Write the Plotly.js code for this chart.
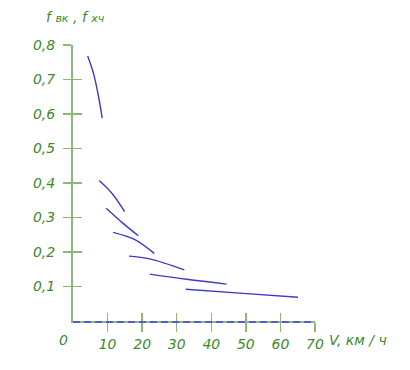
<!DOCTYPE html>
<html><head><meta charset="utf-8">
<script src="https://cdn.plot.ly/plotly-3.0.1.min.js"></script>
<style>html,body{margin:0;padding:0;background:#fff}#chart{width:410px;height:370px}</style>
</head><body><div id="chart"></div>
<script>
// Speed V, km/h and coefficient f for each curve
const curve1V = [4.25, 6.0, 7.4, 8.45];
const curve1F = [0.768, 0.715, 0.650, 0.588];
const curve2V = [7.6, 11.6, 14.9];
const curve2F = [0.407, 0.366, 0.317];
const curve3V = [9.6, 14.5, 18.9];
const curve3F = [0.327, 0.283, 0.247];
const curve4V = [11.6, 17.9, 23.5];
const curve4F = [0.257, 0.236, 0.196];
const curve5V = [16.2, 22.2, 32.2];
const curve5F = [0.188, 0.180, 0.148];
const curve6V = [22.2, 32.9, 44.4];
const curve6F = [0.136, 0.121, 0.107];
const curve7V = [32.6, 49.2, 65.1];
const curve7F = [0.092, 0.080, 0.069];
const xTicks = [10, 20, 30, 40, 50, 60, 70];
const yTicks = [0.1, 0.2, 0.3, 0.4, 0.5, 0.6, 0.7, 0.8];
const yTickText = ['0,1','0,2','0,3','0,4','0,5','0,6','0,7','0,8'];

const green = '#3c8a2a';
const axisGreen = '#8ab877';
const blue = '#3b3bc8';
const tfont = {family: 'DejaVu Sans', size: 14, color: green, style: 'italic'};

const curves = [[curve1V,curve1F],[curve2V,curve2F],[curve3V,curve3F],[curve4V,curve4F],[curve5V,curve5F],[curve6V,curve6F],[curve7V,curve7F]];
const traces = curves.map((c, i) => ({x: c[0], y: c[1], mode: 'lines', line: {color: blue, width: 1.4, shape: 'spline'}, hoverinfo: 'none', showlegend: false,
  xaxis: i === 6 ? 'x2' : 'x', yaxis: i === 6 ? 'y2' : 'y'}));

const layout = {
  width: 410, height: 370,
  margin: {l: 73, r: 95, t: 45, b: 49},
  paper_bgcolor: '#fff', plot_bgcolor: '#fff',
  showlegend: false,
  xaxis: {range: [0, 70], tickvals: xTicks, ticks: 'outside', ticklen: 9, tickwidth: 1.5, tickcolor: axisGreen,
          showline: true, linecolor: axisGreen, linewidth: 2, showgrid: false, zeroline: false, tickfont: tfont, fixedrange: true},
  yaxis: {range: [0, 0.8], tickvals: yTicks, ticktext: yTickText, ticks: 'outside', ticklen: 8, tickwidth: 1.5, tickcolor: axisGreen,
          showline: true, linecolor: axisGreen, linewidth: 2, showgrid: false, zeroline: false, tickfont: tfont, ticklabelstandoff: 5, fixedrange: true},
  xaxis2: {overlaying: 'x', anchor: 'y2', range: [0, 70], tickvals: xTicks, ticks: 'inside', ticklen: 8, tickwidth: 1.5, tickcolor: axisGreen,
           showticklabels: false, showline: false, showgrid: false, zeroline: false, side: 'bottom'},
  yaxis2: {overlaying: 'y', anchor: 'x2', range: [0, 0.8], tickvals: yTicks, ticks: 'inside', ticklen: 9, tickwidth: 1.5, tickcolor: axisGreen,
           showticklabels: false, showline: false, showgrid: false, zeroline: false, side: 'left'},
  shapes: [{type: 'line', xref: 'paper', yref: 'paper', ysizemode: 'pixel', yanchor: 0, x0: 0, x1: 1, y0: -1, y1: -1,
            line: {color: '#5a5ad0', width: 2, dash: '7px,4px'}}],
  annotations: [
    {xref: 'paper', yref: 'paper', x: 0, y: 0, xshift: -10, yshift: -19, text: '0', showarrow: false, xanchor: 'center', yanchor: 'middle', font: tfont},
    {xref: 'paper', yref: 'paper', x: 1, y: 0, xshift: 12, yshift: -19, text: 'V, км / ч', showarrow: false, xanchor: 'left', yanchor: 'middle', font: tfont},
    {xref: 'paper', yref: 'paper', x: 0, y: 1, xshift: -29, yshift: 28, text: 'f <span style="font-size:11px">вк</span> , f <span style="font-size:11px">хч</span>', showarrow: false, xanchor: 'left', yanchor: 'middle', font: tfont}
  ]
};
Plotly.newPlot('chart', traces, layout, {staticPlot: true, displayModeBar: false});
</script></body></html>
